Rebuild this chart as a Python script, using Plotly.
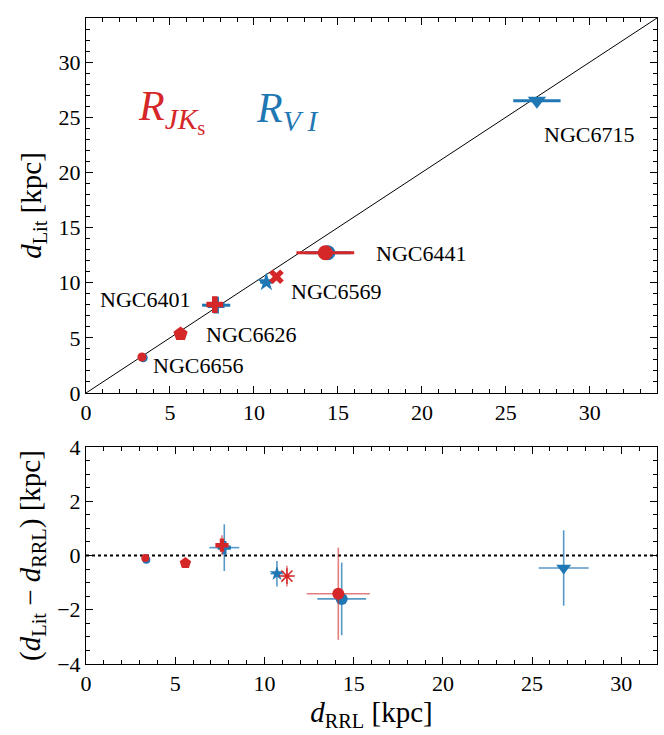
import plotly.graph_objects as go

RED = "#d62728"
BLUE = "#1f77b4"

# ---- top panel: d_Lit vs d_RRL ----
jk_names = ["NGC6656", "NGC6626", "NGC6401", "NGC6569", "NGC6441"]
jk_x = [3.33, 5.63, 7.67, 11.34, 14.25]
jk_y = [3.26, 5.35, 8.02, 10.54, 12.71]
jk_xerr = [0.1, 0.15, 0.25, 0.2, 1.72]
jk_sym = ["circle", "pentagon", "cross", "x", "circle"]

vi_names = ["NGC6656", "NGC6401", "NGC6569", "NGC6441", "NGC6715"]
vi_x = [3.41, 7.75, 10.74, 14.4, 26.85]
vi_y = [3.2, 7.96, 10.04, 12.71, 26.5]
vi_xerr = [0.1, 0.84, 0.37, 1.37, 1.41]
vi_sym = ["circle", "cross", "star", "circle", "triangle-down"]

# ---- bottom panel: residuals ----
rjk_x = [3.32, 5.57, 7.62, 11.26, 14.14]
rjk_y = [-0.09, -0.28, 0.38, -0.76, -1.41]
rjk_xerr = [0.1, 0.15, 0.25, 0.2, 1.77]
rjk_yerr = [0.1, 0.15, 0.37, 0.38, 1.7]
rjk_sym = ["circle", "pentagon", "cross", "asterisk-open", "circle"]

rvi_x = [3.38, 7.75, 10.7, 14.33, 26.77]
rvi_y = [-0.16, 0.29, -0.67, -1.6, -0.46]
rvi_xerr = [0.1, 0.84, 0.37, 1.37, 1.4]
rvi_yerr = [0.1, 0.86, 0.47, 1.34, 1.39]
rvi_sym = ["circle", "cross", "star", "circle", "triangle-down"]

# cluster labels in the top panel
lab_text = ["NGC6715", "NGC6441", "NGC6569", "NGC6401", "NGC6626", "NGC6656"]
lab_x = [27.17, 17.12, 12.07, 6.3, 7.02, 3.86]
lab_y = [23.4, 12.65, 9.2, 8.5, 5.3, 2.5]
lab_anchor = ["left", "left", "left", "right", "left", "left"]

FONT = "Liberation Serif"

fig = go.Figure()

# top panel
fig.add_trace(go.Scatter(x=[0, 34], y=[0, 34], mode="lines",
                         line=dict(color="black", width=1), xaxis="x", yaxis="y",
                         showlegend=False, hoverinfo="skip"))
fig.add_trace(go.Scatter(x=vi_x, y=vi_y, mode="markers", xaxis="x", yaxis="y",
                         marker=dict(symbol=vi_sym, size=[9, 14, 14, 15, 16], color=BLUE,
                                     opacity=1, line=dict(width=0)),
                         error_x=dict(type="data", array=vi_xerr, color=BLUE, thickness=3, width=0),
                         showlegend=False))
fig.add_trace(go.Scatter(x=jk_x, y=jk_y, mode="markers", xaxis="x", yaxis="y",
                         marker=dict(symbol=jk_sym, size=[9, 15, 14, 13, 15], color=RED,
                                     opacity=1, line=dict(width=0)),
                         error_x=dict(type="data", array=jk_xerr, color=RED, thickness=3, width=0),
                         showlegend=False))

# bottom panel
fig.add_trace(go.Scatter(x=[0, 32], y=[0, 0], mode="lines", xaxis="x2", yaxis="y2",
                         line=dict(color="black", width=2, dash="dot"),
                         showlegend=False, hoverinfo="skip"))
fig.add_trace(go.Scatter(x=rvi_x, y=rvi_y, mode="markers", xaxis="x2", yaxis="y2",
                         marker=dict(symbol=rvi_sym, size=[8, 11, 11, 12, 13], color=BLUE,
                                     opacity=1, line=dict(width=0)),
                         error_x=dict(type="data", array=rvi_xerr, color="rgba(31,119,180,0.75)",
                                      thickness=1.6, width=0),
                         error_y=dict(type="data", array=rvi_yerr, color="rgba(31,119,180,0.75)",
                                      thickness=1.6, width=0),
                         showlegend=False))
fig.add_trace(go.Scatter(x=rjk_x, y=rjk_y, mode="markers", xaxis="x2", yaxis="y2",
                         marker=dict(symbol=rjk_sym, size=[8, 12, 11, 13, 12], color=RED,
                                     opacity=1, line=dict(width=[0, 0, 0, 1.5, 0], color=RED)),
                         error_x=dict(type="data", array=rjk_xerr, color="rgba(214,39,40,0.6)",
                                      thickness=1.6, width=0),
                         error_y=dict(type="data", array=rjk_yerr, color="rgba(214,39,40,0.6)",
                                      thickness=1.6, width=0),
                         showlegend=False))

annotations = []
for t, x, y, a in zip(lab_text, lab_x, lab_y, lab_anchor):
    annotations.append(dict(text=t, x=x, y=y, xref="x", yref="y", xanchor=a, yanchor="middle",
                            showarrow=False, font=dict(family=FONT, size=22, color="black")))
annotations.append(dict(text="<i>R</i><sub><i>JK</i><sub>s</sub></sub>", x=3.0, y=25.6,
                        xref="x", yref="y", xanchor="left", yanchor="middle", showarrow=False,
                        font=dict(family=FONT, size=42, color=RED)))
annotations.append(dict(text="<i>R</i><sub><i>V I</i></sub>", x=10.0, y=25.6,
                        xref="x", yref="y", xanchor="left", yanchor="middle", showarrow=False,
                        font=dict(family=FONT, size=42, color=BLUE)))

axis_common = dict(showline=True, linecolor="black", linewidth=1, mirror="ticks",
                   ticks="inside", ticklen=7, tickwidth=1, tickcolor="black",
                   showgrid=False, zeroline=False,
                   tickfont=dict(family=FONT, size=22, color="black"))

fig.update_layout(
    width=664, height=735,
    margin=dict(l=86, r=6, t=6, b=71),
    paper_bgcolor="white", plot_bgcolor="white",
    font=dict(family=FONT, color="black"),
    xaxis=dict(domain=[0, 1], anchor="y", range=[0, 34], tick0=0, dtick=5,
               minor=dict(ticks="inside", ticklen=4, dtick=1, tickcolor="black"), **axis_common),
    yaxis=dict(domain=[0.4195, 1], anchor="x", range=[0, 34], tick0=0, dtick=5,
               minor=dict(ticks="inside", ticklen=4, dtick=1, tickcolor="black"),
               title=dict(text="<i>d</i><sub>Lit</sub> [kpc]", font=dict(family=FONT, size=29),
                          standoff=8),
               **axis_common),
    xaxis2=dict(domain=[0, 1], anchor="y2", range=[0, 32], tick0=0, dtick=5,
                minor=dict(ticks="inside", ticklen=4, dtick=1, tickcolor="black"),
                title=dict(text="<i>d</i><sub>RRL</sub> [kpc]", font=dict(family=FONT, size=29),
                           standoff=4),
                **axis_common),
    yaxis2=dict(domain=[0, 0.3359], anchor="x2", range=[-4, 4], tick0=0, dtick=2,
                minor=dict(ticks="inside", ticklen=4, dtick=0.5, tickcolor="black"),
                title=dict(text="(<i>d</i><sub>Lit</sub> − <i>d</i><sub>RRL</sub>) [kpc]",
                           font=dict(family=FONT, size=29), standoff=8),
                **axis_common),
    annotations=annotations,
)

fig.write_html("out.html")
